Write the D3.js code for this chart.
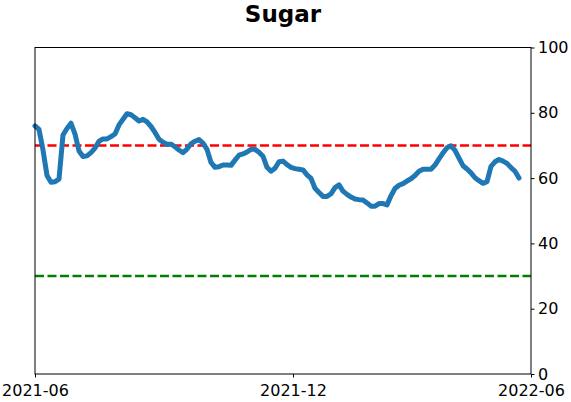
<!DOCTYPE html>
<html>
<head>
<meta charset="utf-8">
<script src="https://cdn.jsdelivr.net/npm/d3@7"></script>
<style>
  html, body { margin: 0; padding: 0; background: #fff; }
  svg { display: block; font-family: "DejaVu Sans", sans-serif; }
</style>
</head>
<body>
<svg id="chart" width="571" height="402"></svg>
<script>
// ---- data ----
const title = "Sugar";
const values = [
  76, 74.9, 68.6, 60.8, 58.7, 58.9, 59.7, 73.2, 75.2, 76.8,
  73.5, 68.3, 66.6, 66.8, 67.8, 69.2, 71.3, 72, 72, 72.7,
  73.5, 76.3, 78, 79.7, 79.4, 78.5, 77.5, 78, 77.2, 75.8,
  74, 71.9, 71, 70.4, 70.4, 69.6, 68.6, 67.8, 68.9, 70.5,
  71.3, 71.8, 70.7, 68.8, 64.8, 63.3, 63.5, 64, 64, 63.9,
  65.5, 67, 67.4, 68, 68.8, 68.8, 67.9, 66.7, 63.3, 62.1,
  63, 65, 65.2, 64.1, 63.3, 62.9, 62.7, 62.5, 61, 59.9,
  56.9, 55.6, 54.4, 54.4, 55.2, 57.1, 57.9, 56, 55, 54.2,
  53.6, 53.4, 53.3, 52.4, 51.4, 51.4, 52.2, 52.2, 51.8, 54.6,
  56.8, 57.8, 58.3, 59.1, 59.8, 60.8, 62.1, 62.7, 62.7, 62.7,
  64, 65.9, 67.7, 69.3, 69.9, 68.5, 66.1, 63.8, 62.8, 61.6,
  60.1, 59.2, 58.4, 58.9, 63.6, 65, 65.7, 65.2, 64.5, 63.2,
  62.1, 60
];
const xDomain = [0, 124];
const xTickPositions = [0, 64.5, 124];
const xTickLabels = ["2021-06", "2021-12", "2022-06"];
const yTicks = [0, 20, 40, 60, 80, 100];
const upperLevel = 70;
const lowerLevel = 30;

// ---- layout ----
const svg = d3.select("#chart");
const mLeft = 35, mRight = 531, mTop = 47.5, mBottom = 374;

const x = d3.scaleLinear().domain(xDomain).range([mLeft, mRight]);
const y = d3.scaleLinear().domain([0, 100]).range([mBottom, mTop]);

// reference lines
svg.append("line")
  .attr("x1", mLeft).attr("x2", mRight)
  .attr("y1", y(upperLevel)).attr("y2", y(upperLevel))
  .attr("stroke", "#ff0000").attr("stroke-width", 2.5)
  .attr("stroke-dasharray", "9,3.5");
svg.append("line")
  .attr("x1", mLeft).attr("x2", mRight)
  .attr("y1", y(lowerLevel)).attr("y2", y(lowerLevel))
  .attr("stroke", "#008000").attr("stroke-width", 2.5)
  .attr("stroke-dasharray", "9,3.5");

// series line
const line = d3.line().x((d, i) => x(i)).y(d => y(d)).curve(d3.curveLinear);
svg.append("path")
  .datum(values)
  .attr("d", line)
  .attr("fill", "none")
  .attr("stroke", "#1f77b4")
  .attr("stroke-width", 5)
  .attr("stroke-linejoin", "round")
  .attr("stroke-linecap", "round");

// frame
svg.append("rect")
  .attr("x", mLeft).attr("y", mTop)
  .attr("width", mRight - mLeft).attr("height", mBottom - mTop)
  .attr("fill", "none").attr("stroke", "#000").attr("stroke-width", 1);

// bottom axis
const xAxis = d3.axisBottom(x)
  .tickValues(xTickPositions)
  .tickFormat((d, i) => xTickLabels[i])
  .tickSize(3.5).tickPadding(7);
const gx = svg.append("g").attr("transform", `translate(0,${mBottom})`).call(xAxis);
gx.select(".domain").remove();
gx.selectAll("text").attr("font-size", 16).attr("fill", "#000")
  .attr("font-family", "DejaVu Sans");
gx.selectAll("line").attr("stroke", "#000");

// right axis
const yAxis = d3.axisRight(y).tickValues(yTicks).tickSize(3.5).tickPadding(3.5);
const gy = svg.append("g").attr("transform", `translate(${mRight},0)`).call(yAxis);
gy.select(".domain").remove();
gy.selectAll("text").attr("font-size", 16).attr("fill", "#000")
  .attr("font-family", "DejaVu Sans");
gy.selectAll("line").attr("stroke", "#000");

// title
svg.append("text")
  .attr("x", (mLeft + mRight) / 2).attr("y", 21.5)
  .attr("text-anchor", "middle")
  .attr("font-family", "DejaVu Sans")
  .attr("font-weight", "bold")
  .attr("font-size", 23)
  .text(title);
</script>
</body>
</html>
